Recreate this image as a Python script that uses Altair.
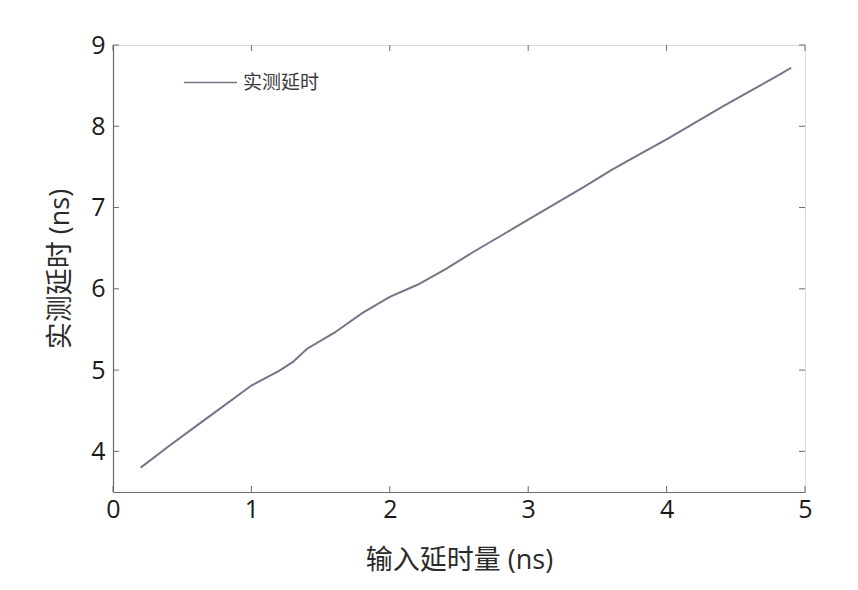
import altair as alt
import pandas as pd

x_vals = [0.2, 0.4, 0.6, 0.8, 1.0, 1.2, 1.3, 1.4, 1.6, 1.8, 2.0, 2.2, 2.4, 2.6, 2.8, 3.0,
          3.2, 3.4, 3.6, 3.8, 4.0, 4.2, 4.4, 4.6, 4.8, 4.9]
y_vals = [3.8, 4.06, 4.31, 4.56, 4.81, 4.99, 5.1, 5.26, 5.46, 5.7, 5.9, 6.05, 6.24, 6.45,
          6.65, 6.85, 7.05, 7.25, 7.46, 7.65, 7.84, 8.04, 8.24, 8.43, 8.62, 8.72]
series_name = "实测延时"
x_ticks = [0, 1, 2, 3, 4, 5]
y_ticks = [4, 5, 6, 7, 8, 9]

df = pd.DataFrame({"x": x_vals, "y": y_vals, "s": [series_name] * len(x_vals)})
xt = pd.DataFrame({"t": x_ticks})
yt = pd.DataFrame({"t": y_ticks})

W, H = 692, 447
xscale = alt.Scale(domain=[0, 5], nice=False)
yscale = alt.Scale(domain=[3.5, 9], nice=False)
axis_col = "#6a6a6a"
font = "Open Sans, Noto Sans CJK SC"

line = alt.Chart(df).mark_line(strokeWidth=2).encode(
    x=alt.X("x:Q", scale=xscale,
            axis=alt.Axis(values=x_ticks, format="d", title="输入延时量 (ns)", grid=False,
                          ticks=False, labelFlush=False, domainColor=axis_col, domainWidth=1.2,
                          labelFontSize=25, labelColor="#1a1a1a", labelFont=font, labelPadding=5,
                          titleFont=font, titleFontSize=27, titleFontWeight="normal",
                          titleColor="#2a2a2a", titlePadding=25)),
    y=alt.Y("y:Q", scale=yscale,
            axis=alt.Axis(values=y_ticks, format="d", title="实测延时 (ns)", grid=False,
                          ticks=False, labelFlush=False, domainColor=axis_col, domainWidth=1.2,
                          labelFontSize=25, labelColor="#1a1a1a", labelFont=font, labelPadding=8,
                          titleFont=font, titleFontSize=27, titleFontWeight="normal",
                          titleColor="#2a2a2a", titlePadding=16)),
    color=alt.Color("s:N", scale=alt.Scale(range=["#75758a"]),
                    legend=alt.Legend(orient="none", legendX=70, legendY=10, title=None,
                                      symbolType="stroke", symbolSize=2809, symbolStrokeWidth=1.5,
                                      symbolStrokeColor="#3a3a3a",
                                      labelFontSize=19, labelFont=font, labelColor="#3a3a3a",
                                      labelOffset=5)),
)

tick_len = 6
xb = alt.Chart(xt).mark_rule(color=axis_col, strokeWidth=1).encode(
    x=alt.X("t:Q", scale=xscale), y=alt.value(H), y2=alt.value(H - tick_len))
xtop = alt.Chart(xt).mark_rule(color=axis_col, strokeWidth=1).encode(
    x=alt.X("t:Q", scale=xscale), y=alt.value(0), y2=alt.value(tick_len))
yl = alt.Chart(yt).mark_rule(color=axis_col, strokeWidth=1).encode(
    y=alt.Y("t:Q", scale=yscale), x=alt.value(0), x2=alt.value(tick_len))
yr = alt.Chart(yt).mark_rule(color=axis_col, strokeWidth=1).encode(
    y=alt.Y("t:Q", scale=yscale), x=alt.value(W), x2=alt.value(W - tick_len))

chart = alt.layer(xb, xtop, yl, yr, line).properties(
    width=W, height=H,
    autosize="none",
    padding={"left": 105, "top": 37, "right": 45, "bottom": 90},
).configure_view(stroke=axis_col, strokeWidth=1.2).configure(background="white")

chart.save("out.html", embed_options={"renderer": "svg", "actions": False})
